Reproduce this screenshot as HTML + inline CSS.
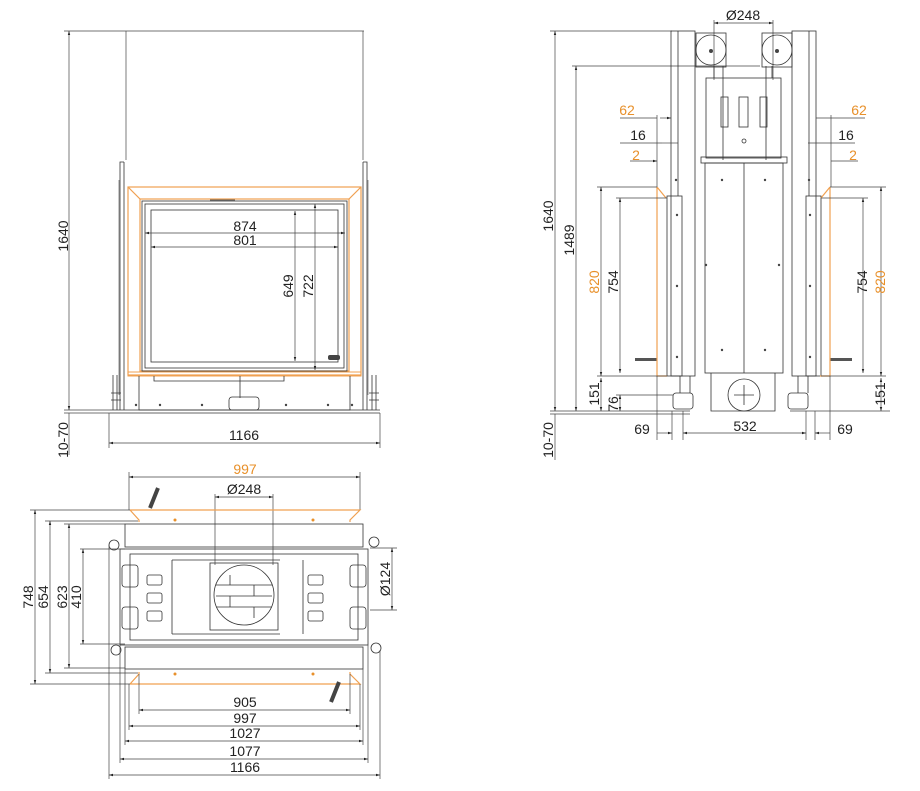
<!DOCTYPE html>
<html><head><meta charset="utf-8"><style>
html,body{margin:0;padding:0;background:#fff;}
svg{display:block;}
text{font-family:"Liberation Sans",Arial,sans-serif;font-size:14px;fill:#222;}
.o{fill:#e8902a;}
.l{stroke:#333;stroke-width:0.8;fill:none;}
.d{stroke:#444;stroke-width:0.7;fill:none;}
.g{stroke:#666;stroke-width:0.7;fill:none;}
.or{stroke:#f0a050;stroke-width:1.2;fill:none;}
</style></head><body>
<svg width="920" height="791" viewBox="0 0 920 791" xmlns="http://www.w3.org/2000/svg">
<defs>
<marker id="a" viewBox="0 0 10 10" refX="10" refY="5" markerWidth="6" markerHeight="6" orient="auto-start-reverse"><path d="M0,2 L10,5 L0,8z" fill="#222"/></marker>
</defs>

<!-- ============ FRONT VIEW ============ -->
<g>
<line class="d" x1="64" y1="31" x2="364" y2="31"/>
<line class="d" x1="126" y1="31" x2="126" y2="160"/>
<line class="d" x1="363" y1="31" x2="363" y2="160"/>
<line class="d" x1="64" y1="410" x2="110" y2="410"/>
<line class="d" x1="64" y1="413" x2="110" y2="413"/>
<line class="d" x1="69" y1="31" x2="69" y2="410" marker-start="url(#a)" marker-end="url(#a)"/>
<line class="d" x1="69" y1="413" x2="69" y2="455"/>
<text transform="translate(68,236) rotate(-90)" text-anchor="middle">1640</text>
<text transform="translate(68,440) rotate(-90)" text-anchor="middle">10-70</text>
<path class="l" d="M120,410 V162 h4 M124,162 V410"/>
<path class="l" d="M367,410 V162 h-4 M363,162 V410"/>
<line class="g" x1="119" y1="180" x2="119" y2="395"/>
<line class="g" x1="368" y1="180" x2="368" y2="395"/>
<rect class="or" x="128" y="187" width="233" height="188"/>
<rect class="or" x="140" y="199" width="209" height="172"/>
<line class="or" x1="128" y1="187" x2="140" y2="199"/>
<line class="or" x1="361" y1="187" x2="349" y2="199"/>
<rect x="128" y="372" width="233" height="4" fill="none" stroke="#f0a050" stroke-width="1"/>
<rect class="l" x="142" y="201" width="205" height="170"/>
<rect class="l" x="145" y="204" width="199" height="164"/>
<rect class="l" x="151" y="210" width="187" height="152"/>
<rect x="328" y="355" width="12" height="5" rx="2" fill="#444"/>
<line class="l" x1="210" y1="200" x2="235" y2="200"/>
<line class="d" x1="145" y1="233" x2="345" y2="233" marker-start="url(#a)" marker-end="url(#a)"/>
<text x="245" y="231" text-anchor="middle">874</text>
<line class="d" x1="151" y1="247" x2="338" y2="247" marker-start="url(#a)" marker-end="url(#a)"/>
<text x="245" y="245" text-anchor="middle">801</text>
<line class="d" x1="295" y1="211" x2="295" y2="361" marker-start="url(#a)" marker-end="url(#a)"/>
<text transform="translate(293,286) rotate(-90)" text-anchor="middle">649</text>
<line class="d" x1="315" y1="204" x2="315" y2="370" marker-start="url(#a)" marker-end="url(#a)"/>
<text transform="translate(313,286) rotate(-90)" text-anchor="middle">722</text>
<path class="l" d="M154,376 v5 h130 v-5 M240,376 v22"/>
<rect class="l" x="229" y="397" width="30" height="13" rx="3"/>
<path class="l" d="M139,376 V410 H350 V376"/>
<line class="l" x1="110" y1="410" x2="380" y2="410"/>
<line class="l" x1="110" y1="413" x2="380" y2="413"/>
<path class="l" d="M113,375 v35 M117,375 v35 M111,393 h10 M111,400 h10"/>
<path class="l" d="M372,375 v35 M376,375 v35 M369,393 h10 M369,400 h10"/>
<g fill="#444"><circle cx="160" cy="405" r="1.2"/><circle cx="202" cy="405" r="1.2"/><circle cx="286" cy="405" r="1.2"/><circle cx="328" cy="405" r="1.2"/><circle cx="136" cy="405" r="1.2"/><circle cx="352" cy="405" r="1.2"/></g>
<line class="d" x1="109" y1="413" x2="109" y2="448"/>
<line class="d" x1="380" y1="413" x2="380" y2="448"/>
<line class="d" x1="109" y1="443" x2="380" y2="443" marker-start="url(#a)" marker-end="url(#a)"/>
<text x="244" y="440" text-anchor="middle">1166</text>
</g>

<!-- ============ SIDE VIEW ============ -->
<g>
<line class="d" x1="550" y1="31" x2="672" y2="31"/>
<line class="d" x1="550" y1="411" x2="690" y2="411"/>
<line class="d" x1="550" y1="414" x2="690" y2="414"/>
<line class="d" x1="555" y1="31" x2="555" y2="411" marker-start="url(#a)" marker-end="url(#a)"/>
<line class="d" x1="555" y1="414" x2="555" y2="460"/>
<text transform="translate(553,216) rotate(-90)" text-anchor="middle">1640</text>
<text transform="translate(553,440) rotate(-90)" text-anchor="middle">10-70</text>
<line class="d" x1="572" y1="66" x2="760" y2="66"/>
<line class="d" x1="576" y1="66" x2="576" y2="411" marker-start="url(#a)" marker-end="url(#a)"/>
<text transform="translate(574,240) rotate(-90)" text-anchor="middle">1489</text>
<line class="d" x1="714" y1="20" x2="714" y2="80"/>
<line class="d" x1="773" y1="20" x2="773" y2="80"/>
<line class="d" x1="714" y1="23" x2="773" y2="23" marker-start="url(#a)" marker-end="url(#a)"/>
<text x="743" y="20" text-anchor="middle">Ø248</text>
<rect class="l" x="671" y="31" width="24" height="345"/>
<line class="l" x1="678" y1="31" x2="678" y2="196"/>
<rect class="l" x="792" y="31" width="24" height="345"/>
<line class="l" x1="809" y1="31" x2="809" y2="196"/>
<rect class="l" x="667" y="196" width="15" height="180"/>
<rect class="l" x="806" y="196" width="15" height="180"/>
<rect class="l" x="696" y="33" width="30" height="34"/>
<circle class="l" cx="711" cy="50" r="15"/><circle cx="711" cy="51" r="2" fill="#444"/>
<rect class="l" x="762" y="33" width="30" height="34"/>
<circle class="l" cx="777" cy="50" r="15"/><circle cx="777" cy="51" r="2" fill="#444"/>
<path class="l" d="M714,66 v12 M772,66 v12"/>
<rect class="l" x="706" y="78" width="75" height="80"/>
<rect class="l" x="721" y="97" width="7" height="30"/>
<rect class="l" x="739" y="97" width="9" height="30"/>
<rect class="l" x="760" y="97" width="7" height="30"/>
<line class="l" x1="723" y1="66" x2="723" y2="160"/><line class="l" x1="766" y1="66" x2="766" y2="160"/>
<circle class="l" cx="744" cy="141" r="2"/>
<rect class="l" x="701" y="157" width="86" height="6"/>
<rect class="l" x="705" y="163" width="78" height="210"/>
<line class="l" x1="744" y1="163" x2="744" y2="373"/>
<g fill="#444"><circle cx="722" cy="180" r="1.2"/><circle cx="765" cy="180" r="1.2"/><circle cx="706" cy="265" r="1.2"/><circle cx="779" cy="265" r="1.2"/><circle cx="722" cy="350" r="1.2"/><circle cx="765" cy="350" r="1.2"/><circle cx="676" cy="180" r="1.2"/><circle cx="809" cy="180" r="1.2"/><circle cx="677" cy="215" r="1.2"/><circle cx="810" cy="215" r="1.2"/><circle cx="677" cy="286" r="1.2"/><circle cx="810" cy="286" r="1.2"/><circle cx="677" cy="357" r="1.2"/><circle cx="810" cy="357" r="1.2"/></g>
<path class="l" d="M711,373 V411 H775 V373"/>
<circle class="l" cx="744" cy="395" r="16"/>
<path class="l" d="M744,385 v20 M734,395 h20"/>
<rect class="l" x="673" y="393" width="20" height="16" rx="3"/>
<rect class="l" x="788" y="393" width="20" height="16" rx="3"/>
<path class="l" d="M680,376 v17 M690,376 v17 M798,376 v17 M808,376 v17"/>
<rect x="635" y="358" width="22" height="3" fill="#555"/>
<rect x="830" y="358" width="22" height="3" fill="#555"/>
<path class="or" d="M657,187 V376 h10 M657,187 l9,11"/>
<path class="or" d="M830,187 V376 h-10 M830,187 l-9,11"/>
<line class="d" x1="657" y1="115" x2="657" y2="187"/>
<line class="d" x1="831" y1="115" x2="831" y2="187"/>
<line class="d" x1="620" y1="118" x2="657" y2="118"/><line class="d" x1="660" y1="118" x2="671" y2="118" marker-end="url(#a)"/>
<line class="d" x1="620" y1="143" x2="662" y2="143"/><line class="d" x1="662" y1="143" x2="678" y2="143"/>
<line class="d" x1="630" y1="161" x2="657" y2="161" marker-end="url(#a)"/>
<text x="627" y="115" class="o" text-anchor="middle">62</text>
<text x="638" y="140" text-anchor="middle">16</text>
<text x="636" y="160" class="o" text-anchor="middle">2</text>
<line class="d" x1="816" y1="118" x2="865" y2="118"/>
<line class="d" x1="808" y1="143" x2="855" y2="143"/>
<line class="d" x1="831" y1="161" x2="858" y2="161"/>
<text x="859" y="115" class="o" text-anchor="middle">62</text>
<text x="846" y="140" text-anchor="middle">16</text>
<text x="853" y="160" class="o" text-anchor="middle">2</text>
<line class="d" x1="597" y1="187" x2="657" y2="187"/>
<line class="d" x1="616" y1="198" x2="667" y2="198"/>
<line class="d" x1="597" y1="376" x2="667" y2="376"/>
<line class="d" x1="601" y1="187" x2="601" y2="376" marker-start="url(#a)" marker-end="url(#a)"/>
<text transform="translate(599,282) rotate(-90)" text-anchor="middle" class="o">820</text>
<line class="d" x1="620" y1="198" x2="620" y2="373" marker-start="url(#a)" marker-end="url(#a)"/>
<text transform="translate(618,282) rotate(-90)" text-anchor="middle">754</text>
<line class="d" x1="830" y1="187" x2="886" y2="187"/>
<line class="d" x1="821" y1="198" x2="868" y2="198"/>
<line class="d" x1="821" y1="376" x2="886" y2="376"/>
<line class="d" x1="881" y1="187" x2="881" y2="376" marker-start="url(#a)" marker-end="url(#a)"/>
<text transform="translate(885,282) rotate(-90)" text-anchor="middle" class="o">820</text>
<line class="d" x1="863" y1="198" x2="863" y2="373" marker-start="url(#a)" marker-end="url(#a)"/>
<text transform="translate(867,282) rotate(-90)" text-anchor="middle">754</text>
<line class="d" x1="601" y1="378" x2="601" y2="411" marker-start="url(#a)" marker-end="url(#a)"/>
<text transform="translate(599,394) rotate(-90)" text-anchor="middle">151</text>
<line class="d" x1="616" y1="395" x2="673" y2="395"/>
<line class="d" x1="620" y1="395" x2="620" y2="411" marker-start="url(#a)" marker-end="url(#a)"/>
<text transform="translate(618,404) rotate(-90)" text-anchor="middle">76</text>
<line class="d" x1="881" y1="378" x2="881" y2="411" marker-start="url(#a)" marker-end="url(#a)"/>
<text transform="translate(885,394) rotate(-90)" text-anchor="middle">151</text>
<line class="d" x1="790" y1="411" x2="890" y2="411"/>
<line class="d" x1="657" y1="376" x2="657" y2="440"/>
<line class="d" x1="672" y1="411" x2="672" y2="440"/>
<line class="d" x1="683" y1="411" x2="683" y2="440"/>
<line class="d" x1="806" y1="411" x2="806" y2="440"/>
<line class="d" x1="815" y1="411" x2="815" y2="440"/>
<line class="d" x1="830" y1="376" x2="830" y2="440"/>
<line class="d" x1="657" y1="433" x2="672" y2="433" marker-end="url(#a)"/>
<line class="d" x1="683" y1="433" x2="806" y2="433" marker-start="url(#a)" marker-end="url(#a)"/>
<line class="d" x1="815" y1="433" x2="830" y2="433" marker-start="url(#a)"/>
<text x="642" y="434" text-anchor="middle">69</text>
<text x="745" y="431" text-anchor="middle">532</text>
<text x="845" y="434" text-anchor="middle">69</text>
</g>

<!-- ============ TOP VIEW ============ -->
<g>
<line class="d" x1="129" y1="472" x2="129" y2="510"/>
<line class="d" x1="360" y1="472" x2="360" y2="510"/>
<line class="d" x1="129" y1="477" x2="360" y2="477" marker-start="url(#a)" marker-end="url(#a)"/>
<text x="245" y="474" text-anchor="middle" class="o">997</text>
<line class="d" x1="215" y1="494" x2="215" y2="565"/>
<line class="d" x1="273" y1="494" x2="273" y2="565"/>
<line class="d" x1="215" y1="497" x2="273" y2="497" marker-start="url(#a)" marker-end="url(#a)"/>
<text x="244" y="494" text-anchor="middle">Ø248</text>
<path class="or" d="M130,510 H360 l-10,10 v2 M130,510 l9,10 v2"/>
<path class="or" d="M130,684 H360 l-10,-10 v-2 M130,684 l9,-10 v-2"/>
<circle cx="175" cy="520" r="1.5" fill="#e8902a"/><circle cx="313" cy="520" r="1.5" fill="#e8902a"/>
<circle cx="175" cy="674" r="1.5" fill="#e8902a"/><circle cx="313" cy="674" r="1.5" fill="#e8902a"/>
<path d="M150,508 L158,488" stroke="#444" stroke-width="4"/>
<path d="M331,702 L339,682" stroke="#444" stroke-width="4"/>
<rect class="l" x="125" y="524" width="238" height="23"/>
<rect class="l" x="125" y="647" width="238" height="22"/>
<rect class="l" x="120" y="549" width="248" height="96"/>
<rect class="l" x="130" y="554" width="228" height="86"/>
<path class="l" d="M172,560 h108 M172,634 h108 M172,560 v74 M303,560 v74"/>
<rect class="l" x="210" y="563" width="68" height="67"/>
<circle class="l" cx="244" cy="595" r="30"/>
<path class="l" d="M216,585 h56 M216,596 h56 M216,607 h56 M230,575 v10 M254,585 v11 M230,596 v11 M254,607 v11"/>
<g class="l"><rect x="147" y="575" width="15" height="10" rx="2"/><rect x="147" y="593" width="15" height="10" rx="2"/><rect x="147" y="611" width="15" height="10" rx="2"/><rect x="308" y="575" width="15" height="10" rx="2"/><rect x="308" y="593" width="15" height="10" rx="2"/><rect x="308" y="611" width="15" height="10" rx="2"/></g>
<g class="l"><rect x="122" y="565" width="16" height="22" rx="3"/><rect x="122" y="607" width="16" height="22" rx="3"/><rect x="350" y="565" width="16" height="22" rx="3"/><rect x="350" y="607" width="16" height="22" rx="3"/></g>
<circle class="l" cx="114" cy="545" r="5"/><circle class="l" cx="374" cy="542" r="5"/><circle class="l" cx="116" cy="650" r="5"/><circle class="l" cx="376" cy="648" r="5"/>
<line class="d" x1="30" y1="510" x2="130" y2="510"/>
<line class="d" x1="45" y1="521" x2="138" y2="521"/>
<line class="d" x1="64" y1="524" x2="125" y2="524"/>
<line class="d" x1="80" y1="549" x2="125" y2="549"/>
<line class="d" x1="80" y1="644" x2="125" y2="644"/>
<line class="d" x1="64" y1="668" x2="125" y2="668"/>
<line class="d" x1="45" y1="673" x2="138" y2="673"/>
<line class="d" x1="30" y1="684" x2="130" y2="684"/>
<line class="d" x1="35" y1="510" x2="35" y2="684" marker-start="url(#a)" marker-end="url(#a)"/>
<text transform="translate(33,597) rotate(-90)" text-anchor="middle">748</text>
<line class="d" x1="50" y1="521" x2="50" y2="673" marker-start="url(#a)" marker-end="url(#a)"/>
<text transform="translate(48,597) rotate(-90)" text-anchor="middle">654</text>
<line class="d" x1="69" y1="524" x2="69" y2="668" marker-start="url(#a)" marker-end="url(#a)"/>
<text transform="translate(67,597) rotate(-90)" text-anchor="middle">623</text>
<line class="d" x1="83" y1="549" x2="83" y2="644" marker-start="url(#a)" marker-end="url(#a)"/>
<text transform="translate(81,597) rotate(-90)" text-anchor="middle">410</text>
<line class="d" x1="370" y1="548" x2="397" y2="548"/>
<line class="d" x1="370" y1="610" x2="397" y2="610"/>
<line class="d" x1="392" y1="548" x2="392" y2="610" marker-start="url(#a)" marker-end="url(#a)"/>
<text transform="translate(390,579) rotate(-90)" text-anchor="middle">Ø124</text>
<line class="d" x1="139" y1="674" x2="139" y2="714"/><line class="d" x1="350" y1="674" x2="350" y2="714"/>
<line class="d" x1="129" y1="684" x2="129" y2="730"/><line class="d" x1="360" y1="684" x2="360" y2="730"/>
<line class="d" x1="125" y1="669" x2="125" y2="745"/><line class="d" x1="363" y1="669" x2="363" y2="745"/>
<line class="d" x1="120" y1="645" x2="120" y2="763"/><line class="d" x1="368" y1="645" x2="368" y2="763"/>
<line class="d" x1="109" y1="545" x2="109" y2="779"/><line class="d" x1="380" y1="650" x2="380" y2="779"/>
<line class="d" x1="139" y1="710" x2="350" y2="710" marker-start="url(#a)" marker-end="url(#a)"/>
<text x="245" y="707" text-anchor="middle">905</text>
<line class="d" x1="129" y1="726" x2="360" y2="726" marker-start="url(#a)" marker-end="url(#a)"/>
<text x="245" y="723" text-anchor="middle">997</text>
<line class="d" x1="125" y1="741" x2="363" y2="741" marker-start="url(#a)" marker-end="url(#a)"/>
<text x="245" y="738" text-anchor="middle">1027</text>
<line class="d" x1="120" y1="759" x2="368" y2="759" marker-start="url(#a)" marker-end="url(#a)"/>
<text x="245" y="756" text-anchor="middle">1077</text>
<line class="d" x1="109" y1="775" x2="380" y2="775" marker-start="url(#a)" marker-end="url(#a)"/>
<text x="245" y="772" text-anchor="middle">1166</text>
</g>
</svg>
</body></html>
